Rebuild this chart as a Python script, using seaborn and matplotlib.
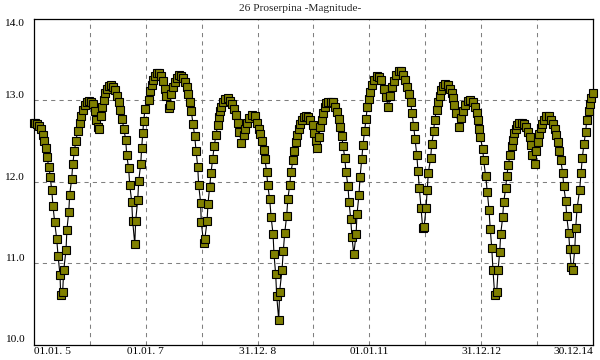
import matplotlib
matplotlib.use("Agg")
import matplotlib.pyplot as plt
import seaborn as sns
import pandas as pd

# Days since 01.01.2005
days = [
    0, 7, 18, 35, 46, 57, 65, 76, 83, 98, 106, 116, 124, 135, 148, 157, 170, 174,
    187, 194, 209, 215, 227, 233, 246, 253, 263, 274, 285, 298, 307, 318, 331, 344,
    357, 370, 383, 396, 407, 420, 426, 436, 446, 455, 466, 475, 488, 501, 514, 527,
    540, 553, 564, 575, 586, 599, 605, 618, 625, 638, 644, 658, 664, 677, 684, 697,
    703, 710, 716, 725,
    749, 755, 769, 777, 788, 801, 814, 827, 840, 853, 862, 880, 888, 897, 906, 919,
    932, 945, 960, 973, 984, 997, 1008, 1019, 1027, 1038, 1049, 1058, 1069, 1075,
    1088, 1092, 1108, 1115, 1130, 1136, 1147, 1156, 1167, 1177, 1188, 1199, 1206,
    1216, 1223, 1234, 1249, 1267, 1280, 1295, 1306, 1319, 1330, 1341, 1354, 1369,
    1376, 1391, 1406, 1423, 1441,
    1458, 1467, 1478, 1489, 1502, 1508, 1519, 1526, 1539, 1548, 1561, 1567, 1578,
    1585, 1598, 1604, 1619, 1628, 1637, 1650, 1657, 1670, 1678, 1691, 1698, 1709,
    1717, 1728, 1739, 1750, 1763, 1774, 1789, 1804, 1820, 1828, 1839, 1848, 1861,
    1869, 1880, 1887, 1898, 1909, 1922, 1937, 1952, 1965, 1977, 1990, 1998, 2009,
    2018, 2029, 2037, 2050, 2057, 2068, 2076, 2088, 2103, 2109, 2122, 2129, 2140,
    2148, 2159, 2168, 2176,
    2185, 2196, 2207, 2222, 2240, 2255, 2268, 2287, 2298, 2313, 2326, 2336, 2349,
    2364, 2381, 2396, 2411, 2424, 2437, 2447, 2460, 2468, 2479, 2488, 2499, 2507,
    2516, 2527, 2538, 2547, 2560, 2568, 2575, 2590, 2597, 2610, 2616, 2629, 2640,
    2649, 2660, 2671, 2686, 2703, 2716, 2727, 2738, 2744, 2755, 2777, 2788, 2799,
    2814, 2832, 2847, 2865, 2878, 2893, 2899, 2908, 2914,
    2930, 2936, 2949, 2960, 2971, 2979, 2989, 2997, 3008, 3021, 3030, 3041, 3047,
    3060, 3067, 3080, 3087, 3097, 3108, 3119, 3128, 3136, 3147, 3156, 3169, 3184,
    3200, 3215, 3228, 3237, 3247, 3254, 3269, 3278, 3289, 3299, 3309, 3319, 3330,
    3345, 3361, 3374, 3387, 3400, 3408, 3420, 3430, 3439, 3452, 3459, 3472, 3478,
    3491, 3498, 3508, 3518, 3531, 3537, 3546, 3563, 3572, 3580, 3591, 3602, 3609,
    3622, 3630, 3639, 3648,
]

magnitude = [
    12.72, 12.72, 12.71, 12.68, 12.64, 12.57, 12.50, 12.41, 12.30, 12.18, 12.05, 11.89,
    11.70, 11.50, 11.30, 11.09, 10.85, 10.61,
    10.64, 10.91, 11.16, 11.41, 11.63, 11.84, 12.03, 12.21, 12.37, 12.50, 12.62, 12.72,
    12.80, 12.88, 12.94, 12.98, 12.99, 12.98, 12.95, 12.86, 12.76, 12.67, 12.65, 12.80,
    12.92, 13.00, 13.08, 13.13, 13.17, 13.18, 13.16, 13.12, 13.05, 12.97, 12.88, 12.77,
    12.65, 12.51, 12.33, 12.16, 11.96, 11.75, 11.52, 11.23, 11.52, 11.77, 12.01, 12.22,
    12.41, 12.59, 12.74, 12.89,
    13.00, 13.11, 13.18, 13.24, 13.29, 13.33, 13.33, 13.29, 13.23, 13.14, 13.05, 12.90,
    12.94, 13.07, 13.16, 13.22, 13.27, 13.31, 13.30, 13.27, 13.22, 13.16, 13.07, 12.97,
    12.86, 12.71, 12.56, 12.38, 12.18, 11.96, 11.74, 11.50, 11.24, 11.29, 11.51, 11.73,
    11.93, 12.11, 12.28, 12.44, 12.57, 12.69, 12.79, 12.86, 12.92, 12.98, 13.01, 13.02,
    12.99, 12.95, 12.89, 12.81, 12.72, 12.61, 12.47, 12.57, 12.65, 12.72, 12.78, 12.81,
    12.80,
    12.72, 12.65, 12.58, 12.50, 12.39, 12.27, 12.12, 11.96, 11.78, 11.57, 11.35, 11.11,
    10.86, 10.59, 10.30, 10.65, 10.91, 11.15, 11.37, 11.58, 11.78, 11.96, 12.12, 12.26,
    12.38, 12.49, 12.57, 12.64, 12.71, 12.75, 12.79, 12.80, 12.79, 12.76, 12.69, 12.60,
    12.50, 12.41, 12.55, 12.67, 12.76, 12.84, 12.91, 12.96, 12.98, 12.98, 12.97, 12.92,
    12.85, 12.77, 12.67, 12.56, 12.44, 12.29, 12.12, 11.94, 11.75, 11.54, 11.32, 11.11,
    11.35, 11.60, 11.84, 12.06, 12.27, 12.45, 12.62, 12.77, 12.91,
    13.01, 13.10, 13.18, 13.25, 13.29, 13.28, 13.24, 13.14, 13.04, 12.91, 13.05, 13.16,
    13.23, 13.31, 13.36, 13.35, 13.31, 13.25, 13.16, 13.07, 12.97, 12.84, 12.68, 12.52,
    12.33, 12.13, 11.92, 11.68, 11.43, 11.44, 11.68, 11.90, 12.11, 12.29, 12.46, 12.62,
    12.76, 12.88, 12.97, 13.05, 13.12, 13.17, 13.20, 13.19, 13.14, 13.09, 13.03, 12.94,
    12.84, 12.67, 12.78, 12.86, 12.94, 12.99, 13.00, 12.97, 12.91, 12.84, 12.75, 12.65,
    12.54,
    12.40, 12.26, 12.07, 11.87, 11.65, 11.42, 11.18, 10.91, 10.61, 10.64, 10.91, 11.14,
    11.35, 11.56, 11.75, 11.92, 12.07, 12.20, 12.33, 12.43, 12.51, 12.59, 12.65, 12.69,
    12.72, 12.72, 12.71, 12.67, 12.61, 12.54, 12.45, 12.33, 12.22, 12.37, 12.49, 12.58,
    12.66, 12.71, 12.76, 12.80, 12.80, 12.76, 12.71, 12.65, 12.57, 12.48, 12.37, 12.26,
    12.11, 11.94, 11.76, 11.58, 11.37, 11.17, 10.95, 10.91, 11.17, 11.43, 11.67, 11.90,
    12.11, 12.29, 12.46, 12.61, 12.75, 12.86, 12.95, 13.02, 13.08,
]

title = "26 Proserpina -Magnitude-"
x_tick_days = [0, 730, 1460, 2190, 2920, 3650]
x_tick_labels = ["01.01. 5", "01.01. 7", "31.12. 8", "01.01.11", "31.12.12", "30.12.14"]
y_ticks = [10.0, 11.0, 12.0, 13.0, 14.0]
y_tick_labels = ["10.0", "11.0", "12.0", "13.0", "14.0"]
grid_days = [365 * i for i in range(1, 10)]

df = pd.DataFrame({"day": days, "mag": magnitude})

sns.set_style("white")
plt.rcParams["font.family"] = ["Liberation Serif", "DejaVu Serif"]

fig = plt.figure(figsize=(6, 3.6), dpi=100)
ax = fig.add_axes([34 / 600, 1 - 344.5 / 360, 559 / 600, (344.5 - 18.5) / 360])

for gx in grid_days:
    ax.axvline(gx, color="#808080", lw=0.75, linestyle=(0, (4, 4)), zorder=0)
for gy in [11.0, 12.0, 13.0]:
    ax.axhline(gy, color="#808080", lw=0.75, linestyle=(0, (4, 4)), zorder=0)

sns.lineplot(data=df, x="day", y="mag", ax=ax, sort=False, estimator=None,
             color="black", lw=0.8, marker="s", markersize=6.3,
             markerfacecolor="#808000", markeredgecolor="black",
             markeredgewidth=0.8, clip_on=False, zorder=3)

ax.set_xlim(0, 3650)
ax.set_ylim(10.0, 14.0)
ax.set_xlabel("")
ax.set_ylabel("")
ax.set_xticks(x_tick_days)
ax.set_xticklabels(x_tick_labels, fontsize=8.2)
ax.set_yticks(y_ticks)
ax.set_yticklabels(y_tick_labels, fontsize=8.2)
ax.tick_params(axis="both", length=0, colors="black")
ax.tick_params(axis="x", pad=2)
ax.tick_params(axis="y", pad=7)

xl = ax.get_xticklabels()
xl[0].set_ha("left")
xl[-1].set_ha("right")
for lab in ax.get_yticklabels():
    lab.set_va("bottom")
ax.get_yticklabels()[-1].set_va("top")

for sp in ax.spines.values():
    sp.set_visible(True)
    sp.set_color("black")
    sp.set_linewidth(0.9)

fig.text(0.5, 1 - 8.5 / 360, title, ha="center", va="center", fontsize=8.2)

fig.savefig("out.png", dpi=100, facecolor="white")
